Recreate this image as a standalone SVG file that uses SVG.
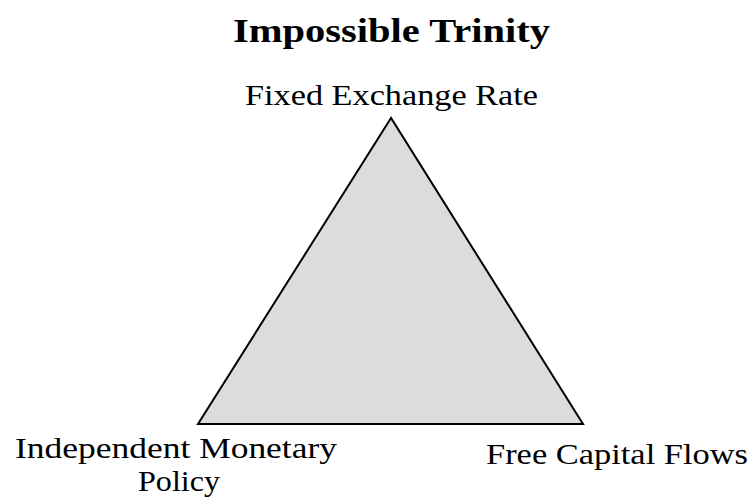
<svg xmlns="http://www.w3.org/2000/svg" width="753" height="504" viewBox="0 0 753 504">
<style>
text{font-family:"Liberation Serif","DejaVu Serif",serif;fill:#000}
.t{font-size:34px;font-weight:bold}
.l{font-size:29px}
</style>
<rect width="753" height="504" fill="#fff"/>
<text class="t" x="233" y="42" textLength="317" lengthAdjust="spacingAndGlyphs">Impossible Trinity</text>
<g id="triangle">
<polygon points="391,118 198,424 583,424" fill="#dcdcdc" stroke="#000" stroke-width="2" stroke-linejoin="miter"/>
</g>
<g id="fixed-exchange-rate">
<text class="l" x="245" y="105" textLength="293" lengthAdjust="spacingAndGlyphs">Fixed Exchange Rate</text>
</g>
<g id="independent-monetary-policy">
<text class="l" x="15" y="458" textLength="322" lengthAdjust="spacingAndGlyphs">Independent Monetary</text>
<text class="l" x="138" y="491" textLength="82" lengthAdjust="spacingAndGlyphs">Policy</text>
</g>
<g id="free-capital-flows">
<text class="l" x="486" y="464" textLength="262" lengthAdjust="spacingAndGlyphs">Free Capital Flows</text>
</g>
<g id="connectors"></g>
</svg>
